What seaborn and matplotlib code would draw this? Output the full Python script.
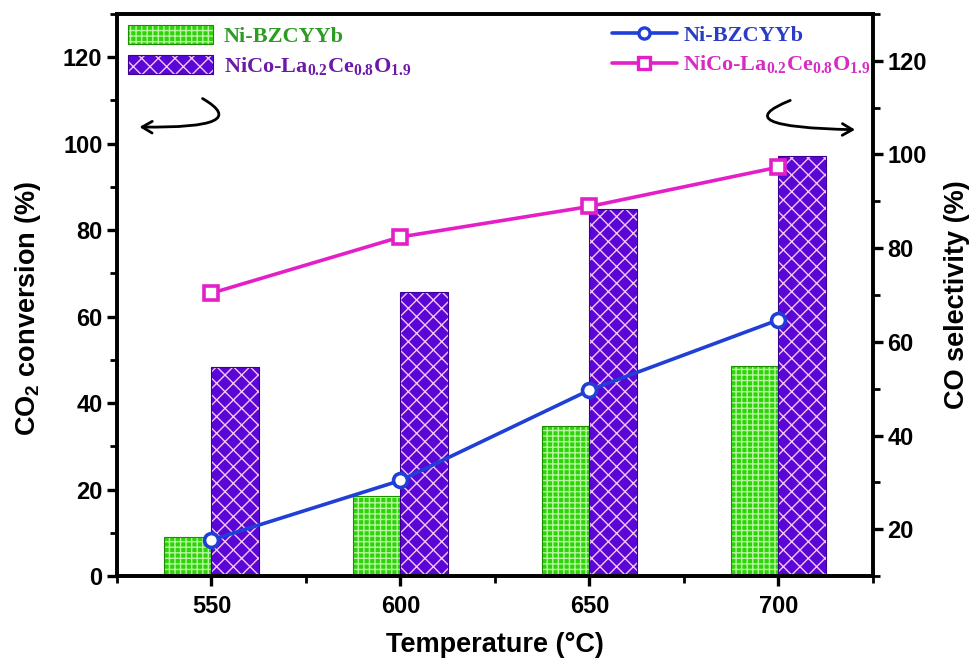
import numpy as np
import pandas as pd
import matplotlib
matplotlib.use("Agg")
import matplotlib.pyplot as plt
from matplotlib.ticker import MultipleLocator, FixedLocator
from matplotlib.colors import to_rgba
import seaborn as sns

# ---------------- data ----------------
temps = [550, 600, 650, 700]
conv_ni = [9.1, 18.5, 34.6, 48.5]          # CO2 conversion, Ni-BZCYYb (bars)
conv_nico = [48.3, 65.6, 84.8, 97.1]       # CO2 conversion, NiCo-LCO (bars)
sel_ni = [17.7, 30.4, 49.7, 64.7]          # CO selectivity, Ni-BZCYYb (line)
sel_nico = [70.4, 82.4, 88.9, 97.3]        # CO selectivity, NiCo-LCO (line)
name_ni = "Ni-BZCYYb"
name_nico = r"NiCo-La$_{0.2}$Ce$_{0.8}$O$_{1.9}$"
x_ticks = [550, 600, 650, 700]
yl_ticks = [0, 20, 40, 60, 80, 100, 120]
yr_ticks = [20, 40, 60, 80, 100, 120]

green = "#2ed40a"
green_hatch = "#b8f5a0"
green_edge = "#1c8f00"
purple = "#5a06d6"
purple_hatch = "#f3c8f0"
purple_edge = "#3a0090"
blue = "#1f3fd6"
pink = "#e41fc8"

# ---------------- style ----------------
sns.set_theme(style="ticks")
plt.rcParams["font.family"] = ["Liberation Sans", "DejaVu Sans"]
plt.rcParams["font.weight"] = "bold"
plt.rcParams["mathtext.fontset"] = "custom"
plt.rcParams["mathtext.rm"] = "Liberation Serif:bold"
plt.rcParams["mathtext.bf"] = "Liberation Serif:bold"
plt.rcParams["mathtext.sf"] = "Liberation Sans:bold"
plt.rcParams["hatch.linewidth"] = 1.0
for k in ["axes.edgecolor", "text.color", "axes.labelcolor",
          "xtick.color", "ytick.color"]:
    plt.rcParams[k] = "black"

fig = plt.figure(figsize=(9.79, 6.66), dpi=100)
ax = fig.add_axes([0.1195, 0.1351, 0.7722, 0.8439])
ax2 = ax.twinx()

# ---------------- bars ----------------
df_bar = pd.DataFrame({
    "T": temps + temps,
    "conv": conv_ni + conv_nico,
    "cat": [name_ni] * len(temps) + [name_nico] * len(temps),
})
sns.barplot(data=df_bar, x="T", y="conv", hue="cat", native_scale=True,
            width=0.5, palette=[green, purple], saturation=1, errorbar=None,
            legend=False, ax=ax)

styles = [("+++", green_edge, green_hatch), ("xx", purple_edge, purple_hatch)]
for cont, (h, ec, hc) in zip(ax.containers, styles):
    for p in cont:
        p.set_hatch(h)
        p.set_edgecolor(ec)
        p.set_linewidth(0.8)
        p._hatch_color = to_rgba(hc)

# ---------------- lines ----------------
df_line = pd.DataFrame({
    "T": temps + temps,
    "sel": sel_ni + sel_nico,
    "cat": [name_ni] * len(temps) + [name_nico] * len(temps),
})
sns.lineplot(data=df_line, x="T", y="sel", hue="cat", style="cat",
             markers=["o", "s"], dashes=False, palette=[blue, pink],
             linewidth=2.6, markersize=10, markerfacecolor="white",
             legend=False, ax=ax2)
for ln in ax2.lines:
    ln.set_markeredgecolor(ln.get_color())
    ln.set_markeredgewidth(2.6)
    ln.set_markerfacecolor("white")

# ---------------- axes ----------------
ax.set_xlim(525, 725)
ax.set_ylim(0, 130)
ax2.set_ylim(10, 130)
ax.xaxis.set_major_locator(FixedLocator(x_ticks))
ax.xaxis.set_minor_locator(MultipleLocator(25))
ax.yaxis.set_major_locator(FixedLocator(yl_ticks))
ax.yaxis.set_minor_locator(MultipleLocator(10))
ax2.yaxis.set_major_locator(FixedLocator(yr_ticks))
ax2.yaxis.set_minor_locator(MultipleLocator(10))

for a in (ax, ax2):
    for s in a.spines.values():
        s.set_linewidth(2.6)
        s.set_color("black")
    a.tick_params(which="major", length=7.5, width=2.4, labelsize=17,
                  colors="black", direction="out", pad=3)
    a.tick_params(which="minor", length=5, width=2.0, direction="out")
ax.tick_params(axis="y", which="both", right=False)
ax.tick_params(axis="x", which="both", top=False, pad=6)
for lab in ax.get_xticklabels() + ax.get_yticklabels() + ax2.get_yticklabels():
    lab.set_fontweight("bold")

ax.set_xlabel("Temperature (°C)", fontsize=19.5, fontweight="bold", labelpad=10)
ax.set_ylabel(r"CO$_\mathsf{2}$ conversion (%)", fontsize=19.5,
              fontweight="bold", labelpad=14)
ax.yaxis.label.set_y(0.475)
ax2.set_ylabel("CO selectivity (%)", fontsize=19.5, fontweight="bold",
               labelpad=12)

# ---------------- legends ----------------
lprop = {"family": "Liberation Serif", "weight": "bold", "size": 16}
leg1 = ax.legend(ax.containers, [name_ni, name_nico], loc="upper left",
                 bbox_to_anchor=(0.0, 1.0), frameon=False, prop=lprop,
                 handlelength=3.8, handleheight=0.95, handletextpad=0.5,
                 labelspacing=0.35, borderaxespad=0.3, borderpad=0.2)
for t, c in zip(leg1.get_texts(), ["#2c9c22", "#6a1aa8"]):
    t.set_color(c)

leg2 = ax2.legend(ax2.lines, [name_ni, name_nico], loc="upper right",
                  bbox_to_anchor=(1.012, 1.0), frameon=False, prop=lprop,
                  handlelength=2.9, handletextpad=0.3, labelspacing=0.35,
                  borderaxespad=0.3, borderpad=0.2)
for t, c in zip(leg2.get_texts(), ["#2a3cc4", "#d62cc4"]):
    t.set_color(c)
for h in leg2.legend_handles:
    h.set_markersize(8)
    h.set_markeredgewidth(2.4)

# ---------------- curved arrows ----------------
ax.annotate("", xy=(0.026, 0.799), xytext=(0.110, 0.852),
            xycoords="axes fraction", textcoords="axes fraction",
            arrowprops=dict(arrowstyle="->,head_length=0.6,head_width=0.35",
                            color="black", lw=2.0,
                            connectionstyle="angle3,angleA=-29,angleB=-1"))
ax2.annotate("", xy=(0.980, 0.794), xytext=(0.894, 0.848),
             xycoords="axes fraction", textcoords="axes fraction",
             arrowprops=dict(arrowstyle="->,head_length=0.6,head_width=0.35",
                             color="black", lw=2.0,
                             connectionstyle="angle3,angleA=21,angleB=-1"))

fig.savefig("out.png", dpi=100)
